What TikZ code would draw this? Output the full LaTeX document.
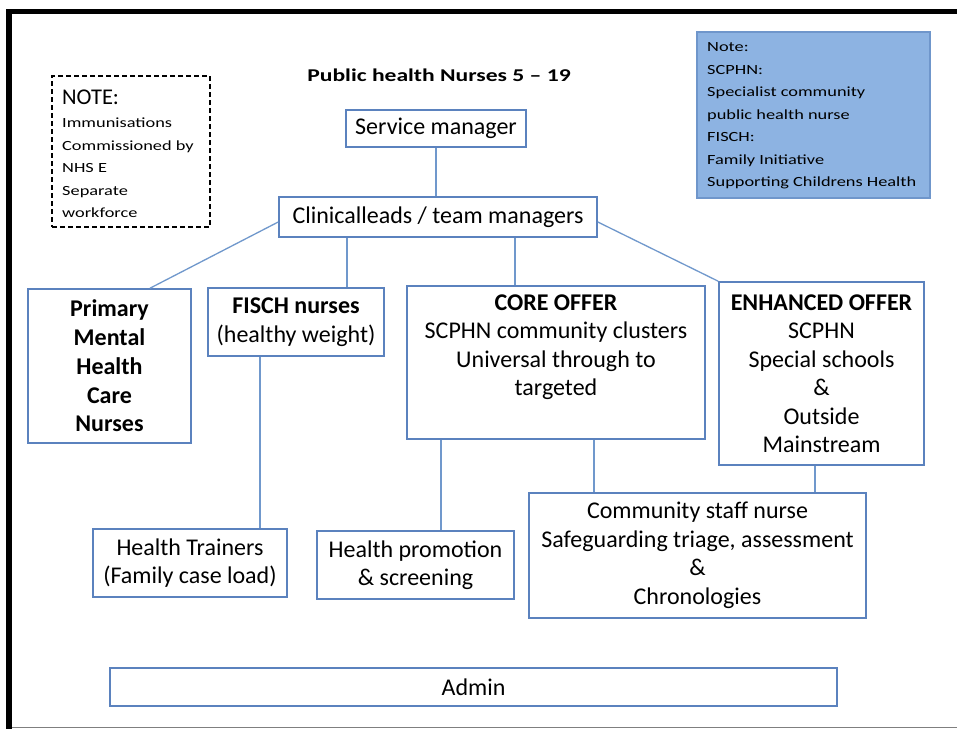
\documentclass[tikz,border=0pt]{standalone}
\usepackage{fontspec}
\setmainfont{Carlito}
\newfontfamily\notefont[FakeStretch=1.31]{Carlito}
\usetikzlibrary{calc}
\definecolor{boxblue}{HTML}{5B82BE}
\definecolor{linkblue}{HTML}{7098CC}
\definecolor{notefill}{HTML}{8DB3E2}
\definecolor{noteedge}{HTML}{6F96CB}
\definecolor{framegray}{HTML}{7F7F7F}

\begin{document}
\begin{tikzpicture}[x=1pt,y=-1pt,
  orgbox/.style={draw=boxblue, line width=1.6pt, fill=white, inner sep=0pt,
    align=center, font=\fontsize{24}{28.5}\selectfont},
  plain/.style={inner sep=0pt, align=center, font=\fontsize{24}{28.5}\selectfont},
  link/.style={draw=linkblue, line width=1.3pt},
  smallnote/.style={inner sep=0pt, align=left, font=\notefont\fontsize{14}{22.5}\selectfont}
]
\useasboundingbox (0,0) rectangle (957,729);
\fill[white] (0,0) rectangle (957,729);

% page frame
\fill[black] (6,9) rectangle (957,14);
\fill[black] (6,9) rectangle (12,729);
\draw[framegray, line width=1.5pt] (12,727.5) -- (957,727.5);

% title
\node[inner sep=0pt, font=\notefont\bfseries\fontsize{18}{22}\selectfont] (title) at (439,75) {Public health Nurses 5 – 19};

% dashed note
\node[draw=black, dashed, dash pattern=on 5pt off 3pt, line width=1.3pt,
  minimum width=158pt, minimum height=151pt, inner sep=0pt] (immnote) at (131,151.5) {};
\node[inner sep=0pt, anchor=west, font=\fontsize{22.5}{24}\selectfont] (immhead) at (62,97) {NOTE:};
\node[smallnote, anchor=west] (immbody) at (62,168) {Immunisations\\Commissioned by\\NHS E\\Separate\\workforce};

% abbreviations note
\node[draw=noteedge, fill=notefill, line width=1.5pt, minimum width=233pt,
  minimum height=166pt, inner sep=0pt] (abbr) at (813.5,115) {};
\node[smallnote, anchor=west] (abbrtext) at (707,116) {Note:\\SCPHN:\\Specialist community\\public health nurse\\FISCH:\\Family Initiative\\Supporting Childrens Health};

% organisation boxes
\node[orgbox, minimum width=180pt, minimum height=37pt] (svc) at (436,128.5) {Service manager};
\node[orgbox, minimum width=318pt, minimum height=40pt] (clin) at (438,217) {Clinicalleads / team managers};
\node[orgbox, minimum width=163pt, minimum height=154pt, font=\bfseries\fontsize{24}{28.8}\selectfont] (pm) at (109.5,366) {Primary\\Mental\\Health\\Care\\Nurses};
\node[orgbox, minimum width=176pt, minimum height=68pt] (fisch) at (296,322) {\textbf{FISCH nurses}\\(healthy weight)};
\node[orgbox, minimum width=298pt, minimum height=153pt] (core) at (556,362.5) {};
\node[plain, anchor=north] (coretext) at ($(core.north)+(0,9)$) {\textbf{CORE OFFER}\\SCPHN community clusters\\Universal through to\\targeted};
\node[orgbox, minimum width=205pt, minimum height=183pt] (enh) at (821.5,373.5) {\textbf{ENHANCED OFFER}\\SCPHN\\Special schools\\\&\\Outside\\Mainstream};
\node[orgbox, minimum width=194pt, minimum height=68pt] (ht) at (190,563) {Health Trainers\\(Family case load)};
\node[orgbox, minimum width=197pt, minimum height=68pt] (hp) at (415.5,565) {Health promotion\\\& screening};
\node[orgbox, minimum width=337pt, minimum height=125pt] (csn) at (697.5,555.5) {Community staff nurse\\Safeguarding triage, assessment\\\&\\Chronologies};
\node[orgbox, minimum width=727pt, minimum height=38pt] (admin) at (473.5,687) {Admin};

% connectors
\draw[link] (svc.south) -- (svc.south |- clin.north);
\draw[link] ($(clin.west)+(0,5)$) -- ($(pm.north)+(40.5,0)$);
\draw[link] ($(clin.east)+(0,5)$) -- (enh.north west);
\coordinate (fup) at ($(fisch.north)+(51,0)$);
\draw[link] (fup) -- (fup |- clin.south);
\coordinate (cup) at ($(core.north)+(-41,0)$);
\draw[link] (cup) -- (cup |- clin.south);
\coordinate (fdown) at ($(fisch.south)+(-36,0)$);
\draw[link] (fdown) -- (fdown |- ht.north);
\coordinate (cdownl) at ($(core.south)+(-115,0)$);
\draw[link] (cdownl) -- (cdownl |- hp.north);
\coordinate (cdownr) at ($(core.south)+(38,0)$);
\draw[link] (cdownr) -- (cdownr |- csn.north);
\coordinate (edown) at ($(enh.south)+(-6.5,0)$);
\draw[link] (edown) -- (edown |- csn.north);
\end{tikzpicture}
\end{document}
